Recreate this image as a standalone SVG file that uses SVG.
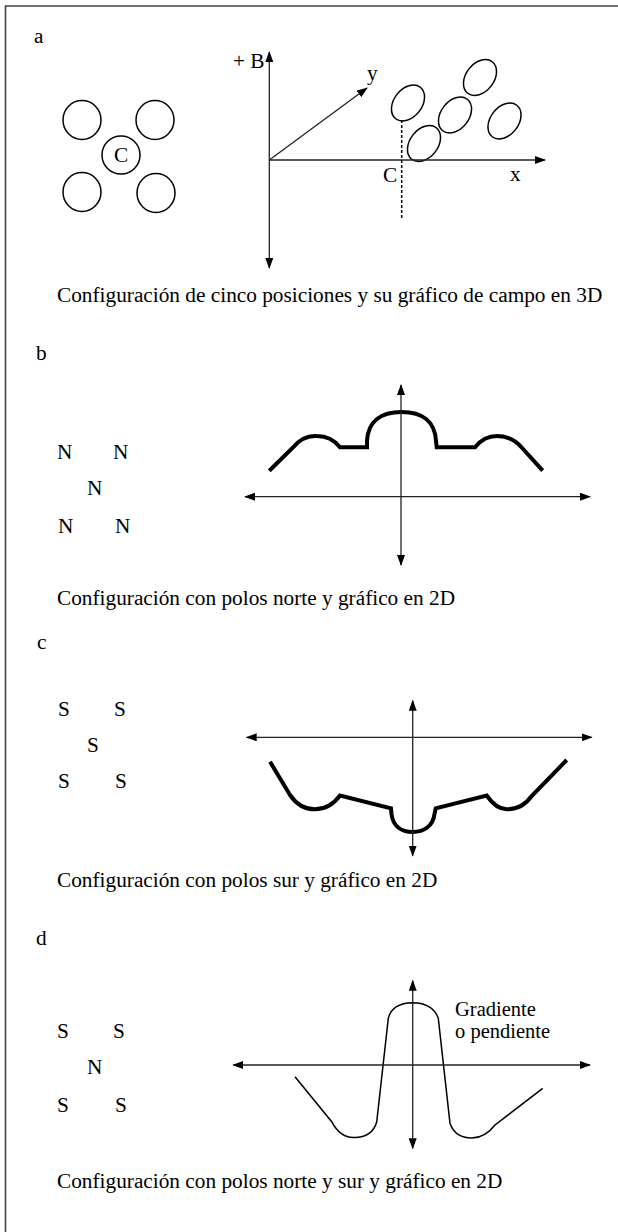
<svg xmlns="http://www.w3.org/2000/svg" width="618" height="1232" viewBox="0 0 618 1232">
<style>
text{font-family:'Liberation Serif','Times New Roman','DejaVu Serif',serif;font-size:21.3px;fill:#000}
.sh{fill:none;stroke:#000;stroke-width:1.5}
.ax{fill:none;stroke:#222;stroke-width:1.3}
.thick{fill:none;stroke:#000;stroke-width:4;stroke-linejoin:miter}
.thin{fill:none;stroke:#000;stroke-width:1.5}
</style>
<defs>
<marker id="ah" markerUnits="userSpaceOnUse" markerWidth="11" markerHeight="8" refX="10" refY="4" orient="auto-start-reverse" viewBox="0 0 11 8">
<path d="M0,0 L11,4 L0,8 z" fill="#000"/>
</marker>
</defs>
<rect width="618" height="1232" fill="#fff"/>
<g id="frame">
<path d="M5.5,1232 L5.5,6 L618,6" fill="none" stroke="#444" stroke-width="1.6"/>
</g>

<g id="panel-a">
<text x="34" y="43">a</text>
<g id="circles-a">
<ellipse class="sh" cx="82" cy="120" rx="19" ry="19.5"/>
<ellipse class="sh" cx="155" cy="120" rx="19" ry="19.5"/>
<ellipse class="sh" cx="121" cy="155" rx="19" ry="19"/>
<ellipse class="sh" cx="82" cy="192" rx="19" ry="19.5"/>
<ellipse class="sh" cx="156" cy="193" rx="19" ry="19.5"/>
<text x="121" y="162" text-anchor="middle">C</text>
</g>
<g id="field-a">
<ellipse class="sh" cx="408" cy="103" rx="20" ry="14" transform="rotate(-52 408 103)"/>
<ellipse class="sh" cx="424" cy="143.5" rx="20" ry="14" transform="rotate(-52 424 143.5)"/>
<ellipse class="sh" cx="455" cy="115" rx="20" ry="14" transform="rotate(-52 455 115)"/>
<ellipse class="sh" cx="480" cy="77.5" rx="20" ry="14" transform="rotate(-52 480 77.5)"/>
<ellipse class="sh" cx="504.5" cy="121" rx="20" ry="14" transform="rotate(-52 504.5 121)"/>
<text x="233" y="68">+ B</text>
<text x="367" y="80">y</text>
<text x="383" y="182">C</text>
<text x="510" y="181">x</text>
</g>
<text x="57" y="302">Configuración de cinco posiciones y su gráfico de campo en 3D</text>
</g>

<g id="panel-b">
<text x="36" y="360">b</text>
<text x="57" y="459">N</text>
<text x="113" y="459">N</text>
<text x="87" y="495">N</text>
<text x="58" y="533">N</text>
<text x="115" y="533">N</text>
<path class="thick" d="M269.3,470.7 L293,447.5 Q303,435 317,436 Q331,436 340,447.2 L367,447.2 L367,441 C368,421 381,412 401.7,412 C422,412 435,421 436,441 L436.7,447.2 L475,447.2 Q484,436 497,436 Q512,436 521.7,447.5 L542.7,470.7"/>
<text x="57" y="605">Configuración con polos norte y gráfico en 2D</text>
</g>

<g id="panel-c">
<text x="37" y="649">c</text>
<text x="58" y="716">S</text>
<text x="114" y="716">S</text>
<text x="87" y="752">S</text>
<text x="58" y="788">S</text>
<text x="115" y="788">S</text>
<path class="thick" d="M270,761.7 L290,795 Q300,809.5 315,809.3 Q330,809 340,795.5 L391,808.3 L391.5,814 C393,826 401,832 412.7,832 C424,832 433,826 434.5,814 L435.7,808.3 L486.7,795.5 Q496,809 506.7,809.3 Q522,809.5 531.7,796 L566.7,760"/>
<text x="57" y="887">Configuración con polos sur y gráfico en 2D</text>
</g>

<g id="panel-d">
<text x="36" y="945">d</text>
<text x="57" y="1038">S</text>
<text x="113" y="1038">S</text>
<text x="87" y="1074">N</text>
<text x="57" y="1112">S</text>
<text x="115" y="1112">S</text>
<path class="thin" d="M295,1076.7 L331.7,1121.7 Q340,1137.5 353.3,1137.5 Q372,1138 376.7,1122 L388.3,1018.3 Q392,1003 412.7,1002.7 Q433,1003 438.3,1018.3 L450,1123.3 Q455,1138 471.7,1138 Q485,1138 495,1125 L542.7,1088.3"/>
<text x="455" y="1016" style="font-size:20.5px">Gradiente</text>
<text x="455" y="1038" style="font-size:20.5px">o pendiente</text>
<text x="57" y="1188">Configuración con polos norte y sur y gráfico en 2D</text>
</g>

<g id="connectors">
<line class="ax" x1="269.3" y1="52" x2="269.3" y2="268" marker-start="url(#ah)" marker-end="url(#ah)"/>
<line class="ax" x1="269.3" y1="160" x2="545" y2="160" marker-end="url(#ah)"/>
<line class="ax" x1="269.3" y1="160" x2="367" y2="88" marker-end="url(#ah)"/>
<line x1="401.7" y1="120" x2="401.7" y2="220" stroke="#000" stroke-width="1.5" stroke-dasharray="3,2"/>
<line class="ax" x1="245" y1="496.7" x2="590" y2="496.7" marker-start="url(#ah)" marker-end="url(#ah)"/>
<line class="ax" x1="401" y1="385" x2="401" y2="565" marker-start="url(#ah)" marker-end="url(#ah)"/>
<line class="ax" x1="246.7" y1="737.3" x2="591.7" y2="737.3" marker-start="url(#ah)" marker-end="url(#ah)"/>
<line class="ax" x1="412.7" y1="700.7" x2="412.7" y2="855.7" marker-start="url(#ah)" marker-end="url(#ah)"/>
<line class="ax" x1="233.3" y1="1065" x2="590" y2="1065" marker-start="url(#ah)" marker-end="url(#ah)"/>
<line class="ax" x1="412.7" y1="980.7" x2="412.7" y2="1148.3" marker-start="url(#ah)" marker-end="url(#ah)"/>
</g>
</svg>
